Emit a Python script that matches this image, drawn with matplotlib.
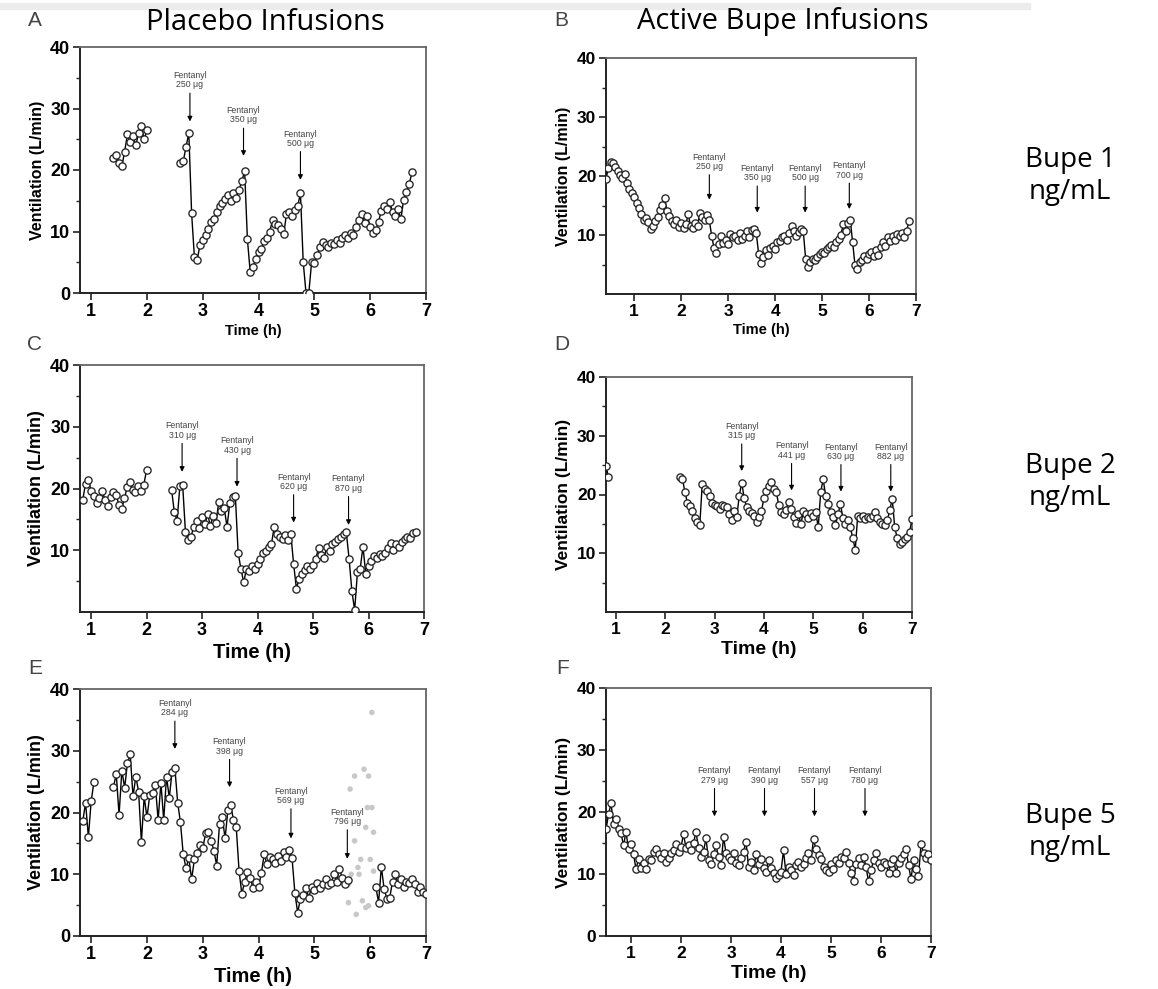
import numpy as np
import matplotlib
matplotlib.use("Agg")
import matplotlib.pyplot as plt
from matplotlib.patches import Rectangle

STEP = 0.05  # sampling interval of the traces (h)

# ---- Panel A: placebo, bupe 1 ----
a_start = [1.40, 2.60]
a_vals_1 = [22.0, 22.5, 21.2, 20.6, 23.0, 25.8, 24.5, 25.5, 24.0, 26.0, 27.2, 25.0, 26.5]
a_vals_2 = [21.1, 21.4, 23.8, 26.0, 13.0, 5.8, 5.4, 7.8, 8.6, 9.5, 10.4, 11.6, 12.0, 13.1,
            14.2, 14.6, 15.3, 15.9, 15.0, 16.2, 15.4, 16.8, 18.2, 19.8, 8.7, 3.4, 4.2, 5.6,
            6.6, 7.2, 8.4, 8.9, 10.0, 11.8, 11.3, 11.0, 10.4, 9.6, 12.8, 13.2, 12.6, 13.5,
            14.1, 16.2, 5.0, 0.0, 0.0, 5.0, 4.8, 6.2, 7.4, 8.3, 7.8, 7.4, 8.1, 7.9, 8.6,
            8.2, 8.9, 9.4, 9.0, 9.8, 9.4, 10.8, 11.9, 12.8, 11.4, 12.5, 10.7, 9.8, 10.2,
            11.6, 13.4, 14.2, 13.6, 14.8, 13.2, 12.5, 13.6, 12.0, 15.2, 16.4, 17.8, 19.6]
a_arrow_t = [2.77, 3.73, 4.75]
a_doses = ["250 μg", "350 μg", "500 μg"]

# ---- Panel B: active bupe, bupe 1 ----
b_start = [0.40]
b_vals_1 = [19.5, 21.4, 22.4, 22.2, 21.6, 20.8, 20.2, 19.6, 20.4, 18.8, 17.8, 17.2, 16.4,
            15.5, 14.6, 13.6, 12.6, 12.9, 12.2, 11.0, 11.6, 12.4, 13.0, 14.2, 15.1, 16.2,
            14.0, 13.2, 12.4, 11.8, 12.6, 11.4, 12.0, 11.2, 11.8, 13.6, 11.5, 11.2, 12.0,
            11.6, 13.8, 13.0, 12.6, 13.4, 12.5, 9.8, 7.8, 6.9, 8.4, 9.8, 8.6, 9.2, 8.4,
            10.2, 9.6, 9.8, 9.2, 10.4, 9.4, 9.8, 10.6, 9.6, 10.8, 11.0, 10.3, 6.8, 5.3,
            6.2, 7.4, 6.6, 7.8, 8.2, 7.6, 8.8, 9.0, 9.6, 9.9, 9.2, 10.4, 11.6, 10.6, 9.8,
            10.5, 11.0, 10.6, 6.0, 4.6, 5.4, 6.0, 5.8, 6.3, 6.8, 7.2, 7.0, 7.6, 7.9, 8.3,
            8.0, 8.8, 9.4, 10.0, 11.8, 10.6, 12.0, 12.6, 8.8, 5.0, 4.3, 5.4, 5.8, 6.4, 6.0,
            6.8, 7.2, 6.4, 7.4, 6.6, 8.0, 8.8, 8.2, 9.6, 9.0, 9.8, 9.2, 10.2, 9.8, 10.4,
            9.6, 10.6, 12.4]
b_arrow_t = [2.60, 3.62, 4.64, 5.58]
b_doses = ["250 μg", "350 μg", "500 μg", "700 μg"]

# ---- Panel C: placebo, bupe 2 ----
c_start = [0.85, 2.45]
c_vals_1 = [18.2, 20.8, 21.4, 19.6, 18.8, 17.6, 18.4, 19.6, 18.2, 17.2, 18.6, 19.4, 19.0,
            17.4, 16.6, 18.4, 20.2, 21.0, 19.8, 19.4, 20.4, 19.6, 20.6, 23.0]
c_vals_2 = [19.8, 16.2, 14.8, 20.4, 20.6, 13.0, 11.6, 12.2, 13.8, 14.8, 13.6, 15.4, 14.2,
            15.8, 14.0, 15.6, 14.4, 17.8, 16.4, 16.8, 13.8, 17.6, 18.6, 18.8, 9.6, 7.0, 4.8,
            7.0, 6.6, 7.4, 7.0, 7.8, 8.6, 9.6, 9.8, 10.6, 11.0, 13.8, 12.6, 12.2, 11.8, 12.4,
            11.6, 12.6, 7.8, 3.8, 5.4, 6.2, 6.8, 7.4, 7.0, 7.6, 8.6, 10.4, 9.2, 8.8, 10.6,
            9.8, 11.0, 11.4, 11.8, 12.2, 12.6, 12.9, 8.6, 3.4, 0.3, 6.4, 7.0, 10.6, 6.2, 7.4,
            8.2, 9.0, 8.8, 9.4, 9.0, 9.6, 10.4, 11.2, 10.0, 11.0, 10.6, 11.4, 11.8, 12.2,
            12.0, 12.8, 13.0]
c_arrow_t = [2.64, 3.63, 4.65, 5.64]
c_doses = ["310 μg", "430 μg", "620 μg", "870 μg"]

# ---- Panel D: active bupe, bupe 2 ----
d_start = [0.80, 2.30]
d_vals_1 = [24.8, 23.0]
d_vals_2 = [23.0, 22.6, 20.4, 18.6, 18.0, 17.2, 16.0, 15.4, 14.8, 21.8, 21.0, 20.6, 19.8,
            18.6, 18.2, 18.0, 17.6, 18.2, 18.0, 17.8, 16.6, 15.6, 17.2, 16.2, 19.8, 22.0,
            19.4, 17.8, 17.2, 16.8, 16.4, 15.4, 16.2, 17.2, 19.4, 20.6, 21.4, 22.2, 21.0,
            20.4, 18.2, 17.0, 16.6, 17.4, 18.8, 17.6, 16.2, 15.2, 16.6, 15.0, 17.2, 16.6,
            16.0, 16.8, 16.4, 17.0, 14.4, 20.4, 22.6, 19.8, 18.4, 17.0, 16.2, 14.8, 16.6,
            18.4, 16.0, 15.0, 15.6, 14.4, 12.6, 10.6, 16.4, 16.0, 16.4, 15.8, 16.2, 16.0,
            16.4, 17.0, 16.0, 15.4, 15.0, 14.8, 15.6, 17.4, 19.2, 14.4, 12.6, 11.6, 12.0,
            12.4, 12.8, 13.6, 15.8]
d_arrow_t = [3.55, 4.56, 5.56, 6.57]
d_doses = ["315 μg", "441 μg", "630 μg", "882 μg"]

# ---- Panel E: placebo, bupe 5 ----
e_start = [0.85, 1.40, 6.10]
e_vals_1 = [18.6, 21.6, 16.0, 21.8, 25.0]
e_vals_2 = [24.2, 26.2, 19.6, 26.8, 24.0, 28.0, 29.4, 22.6, 25.8, 23.4, 15.2, 22.6, 19.2,
            22.8, 23.2, 24.4, 18.8, 24.8, 18.8, 25.8, 22.4, 26.6, 27.2, 21.6, 18.4, 13.2,
            11.0, 12.6, 9.2, 12.4, 13.4, 14.8, 14.2, 16.6, 16.8, 15.4, 13.8, 11.4, 18.2,
            19.2, 15.8, 20.4, 21.2, 18.8, 17.6, 10.6, 6.8, 8.8, 10.4, 9.4, 7.8, 8.8, 8.0,
            10.2, 13.2, 11.6, 12.8, 12.4, 11.8, 13.0, 12.2, 13.6, 12.8, 14.0, 12.6, 7.0, 3.8,
            6.0, 6.6, 7.8, 6.2, 8.0, 7.4, 8.6, 7.8, 8.4, 9.2, 8.2, 8.6, 10.0, 8.8, 10.8, 9.4,
            8.4, 9.0]
e_vals_3 = [8.0, 5.4, 11.2, 7.6, 6.0, 6.2, 8.8, 10.0, 8.4, 9.2, 8.0, 8.8, 8.6, 9.2, 8.4,
            7.2, 8.0, 7.2, 6.8]
# excluded (grey) readings during the fourth infusion
e_excl_t = [5.61, 5.61, 5.64, 5.66, 5.72, 5.72, 5.75, 5.78, 5.80, 5.83, 5.86, 5.89, 5.92,
            5.92, 5.95, 5.97, 5.97, 6.00, 6.03, 6.03, 6.06, 6.06]
e_excl_v = [5.4, 8.4, 23.8, 10.0, 25.9, 15.4, 3.5, 11.1, 10.0, 12.4, 5.7, 27.0, 17.6, 4.6,
            20.8, 4.9, 25.9, 12.4, 36.2, 20.8, 16.8, 10.5]
e_arrow_t = [2.50, 3.48, 4.58, 5.59]
e_doses = ["284 μg", "398 μg", "569 μg", "796 μg"]

# ---- Panel F: active bupe, bupe 5 ----
f_start = [0.50]
f_vals_1 = [17.2, 19.6, 21.4, 18.0, 18.8, 17.2, 16.6, 14.6, 16.8, 14.0, 14.8, 13.2, 10.8,
            12.4, 11.0, 11.8, 10.8, 12.4, 12.2, 13.6, 14.0, 13.2, 12.6, 13.4, 12.0, 12.6,
            13.4, 13.8, 14.8, 13.6, 14.4, 16.4, 14.2, 14.6, 13.8, 15.0, 16.8, 14.2, 12.8,
            13.6, 15.8, 12.2, 11.6, 13.2, 14.6, 12.8, 11.4, 16.0, 13.4, 12.8, 12.2, 13.4,
            11.8, 11.4, 12.6, 13.6, 15.2, 11.2, 12.0, 10.6, 13.2, 11.6, 12.4, 11.0, 10.4,
            12.2, 11.0, 10.2, 9.4, 9.8, 10.4, 13.8, 10.0, 11.2, 10.6, 9.8, 11.4, 12.0, 11.2,
            11.6, 12.6, 13.4, 12.2, 15.6, 14.0, 13.0, 12.4, 11.2, 10.6, 10.4, 11.6, 10.8,
            12.2, 11.8, 12.8, 12.6, 13.6, 11.8, 10.2, 8.8, 11.6, 12.6, 11.4, 12.8, 11.2, 8.8,
            10.6, 12.2, 13.4, 11.8, 11.2, 12.0, 11.6, 10.2, 11.8, 12.4, 10.2, 11.8, 12.6,
            13.2, 14.0, 11.4, 9.2, 12.2, 10.8, 9.6, 14.8, 13.4, 12.6, 13.2, 12.2]
f_arrow_t = [2.67, 3.67, 4.67, 5.68]
f_doses = ["279 μg", "390 μg", "557 μg", "780 μg"]

x_ticks = [1, 2, 3, 4, 5, 6, 7]

AX_FONT = "Liberation Sans"
FIG_FONT = ["Open Sans", "DejaVu Sans"]


def draw_trace(ax, starts, segments):
    for t0, vals in zip(starts, segments):
        t = t0 + STEP * np.arange(len(vals))
        ax.plot(t, vals, color="black", lw=1.0, marker="o", ms=5.2,
                mfc="white", mec="#222222", mew=0.95, zorder=3)


def draw_arrows(ax, times, doses, tops, bottoms):
    for t, dose, y0, y1 in zip(times, doses, tops, bottoms):
        ax.annotate("", xy=(t, y1), xytext=(t, y0),
                    arrowprops=dict(arrowstyle="-|>", color="black", lw=0.8,
                                    mutation_scale=7, shrinkA=0, shrinkB=0))
        ax.text(t, y0 + 0.6, "Fentanyl\n" + dose, ha="center", va="bottom",
                fontsize=6.3, color="#444444", linespacing=1.05,
                family=AX_FONT)


def style_axes(ax, xlim, yticks, tick_size, ylab_size, xlab_size):
    ax.set_xlim(*xlim)
    ax.set_ylim(0, 40)
    ax.set_xticks(x_ticks)
    ax.set_xticklabels([str(v) for v in x_ticks], fontsize=tick_size,
                       fontweight="bold", family=AX_FONT)
    ax.set_yticks(yticks)
    ax.set_yticklabels([str(v) for v in yticks], fontsize=tick_size,
                       fontweight="bold", family=AX_FONT)
    ax.set_yticks([5, 15, 25, 35], minor=True)
    ax.tick_params(axis="both", which="major", direction="out", length=5,
                   width=1.2, pad=2, color="#222222")
    ax.tick_params(axis="y", which="minor", direction="out", length=3,
                   width=1.0, color="#222222")
    for side in ["top", "right"]:
        ax.spines[side].set_color("#666666")
        ax.spines[side].set_linewidth(1.3)
    for side in ["left", "bottom"]:
        ax.spines[side].set_color("#222222")
        ax.spines[side].set_linewidth(1.4)
    ax.set_ylabel("Ventilation (L/min)", fontsize=ylab_size, fontweight="bold",
                  family=AX_FONT, labelpad=4)
    ax.set_xlabel("Time (h)", fontsize=xlab_size, fontweight="bold",
                  family=AX_FONT, labelpad=3)


def main():
    W, H = 1158, 989
    fig = plt.figure(figsize=(W / 100, H / 100), dpi=100)

    def rect(l, t, r, b):
        return [l / W, 1 - b / H, (r - l) / W, (b - t) / H]

    axA = fig.add_axes(rect(80, 47, 426, 293))
    axB = fig.add_axes(rect(606, 58, 916, 294))
    axC = fig.add_axes(rect(80, 365, 424, 612))
    axD = fig.add_axes(rect(606, 377, 912, 612))
    axE = fig.add_axes(rect(80, 689, 426, 936))
    axF = fig.add_axes(rect(606, 688, 931, 936))

    draw_trace(axA, a_start, [a_vals_1, a_vals_2])
    draw_arrows(axA, a_arrow_t, a_doses, [32.5, 26.8, 23.0], [27.9, 22.3, 18.4])
    style_axes(axA, (0.8, 7), [0, 10, 20, 30, 40], 13, 11.5, 10.5)

    draw_trace(axB, b_start, [b_vals_1])
    draw_arrows(axB, b_arrow_t, b_doses, [20.2, 18.3, 18.3, 18.8],
                [16.0, 13.8, 13.8, 14.4])
    style_axes(axB, (0.4, 7), [10, 20, 30, 40], 12.5, 11.5, 10.5)

    draw_trace(axC, c_start, [c_vals_1, c_vals_2])
    draw_arrows(axC, c_arrow_t, c_doses, [27.3, 24.9, 19.0, 18.7],
                [22.7, 20.3, 14.5, 14.1])
    style_axes(axC, (0.8, 7), [10, 20, 30, 40], 13, 13, 14.5)

    draw_trace(axD, d_start, [d_vals_1, d_vals_2])
    draw_arrows(axD, d_arrow_t, d_doses, [28.6, 25.3, 25.1, 25.1],
                [24.0, 20.7, 20.5, 20.5])
    style_axes(axD, (0.8, 7), [10, 20, 30, 40], 12.5, 12.5, 14)

    axE.scatter(e_excl_t, e_excl_v, s=16, color="#c8c8c8", edgecolors="none",
                zorder=2)
    draw_trace(axE, e_start, [e_vals_1, e_vals_2, e_vals_3])
    draw_arrows(axE, e_arrow_t, e_doses, [34.8, 28.6, 20.6, 17.2],
                [30.3, 24.1, 15.8, 12.5])
    style_axes(axE, (0.8, 7), [0, 10, 20, 30, 40], 13, 13, 14.5)

    draw_trace(axF, f_start, [f_vals_1])
    draw_arrows(axF, f_arrow_t, f_doses, [23.8] * 4, [19.3] * 4)
    style_axes(axF, (0.5, 7), [0, 10, 20, 30, 40], 12.5, 12.5, 14)

    # faint strip along the top edge
    fig.patches.append(Rectangle((0, 1 - 9 / H), 1030 / W, 6 / H,
                                 transform=fig.transFigure, color="#ececec",
                                 zorder=0))

    for letter, x, y in [("A", 35, 20), ("B", 561, 20), ("C", 35, 345),
                         ("D", 562, 345), ("E", 35, 668), ("F", 563, 668)]:
        fig.text(x / W, 1 - y / H, letter, ha="center", va="center",
                 fontsize=15, color="#444444", family=AX_FONT)

    fig.text(265 / W, 1 - 22 / H, "Placebo Infusions", ha="center",
             va="center", fontsize=21, family=FIG_FONT)
    fig.text(783 / W, 1 - 22 / H, "Active Bupe Infusions", ha="center",
             va="center", fontsize=21, family=FIG_FONT)

    for label, y in [("Bupe 1\nng/mL", 176), ("Bupe 2\nng/mL", 482),
                     ("Bupe 5\nng/mL", 832)]:
        fig.text(1070 / W, 1 - y / H, label, ha="center", va="center",
                 fontsize=20, family=FIG_FONT, linespacing=1.15)

    fig.savefig("out.png", dpi=100)


if __name__ == "__main__":
    main()
